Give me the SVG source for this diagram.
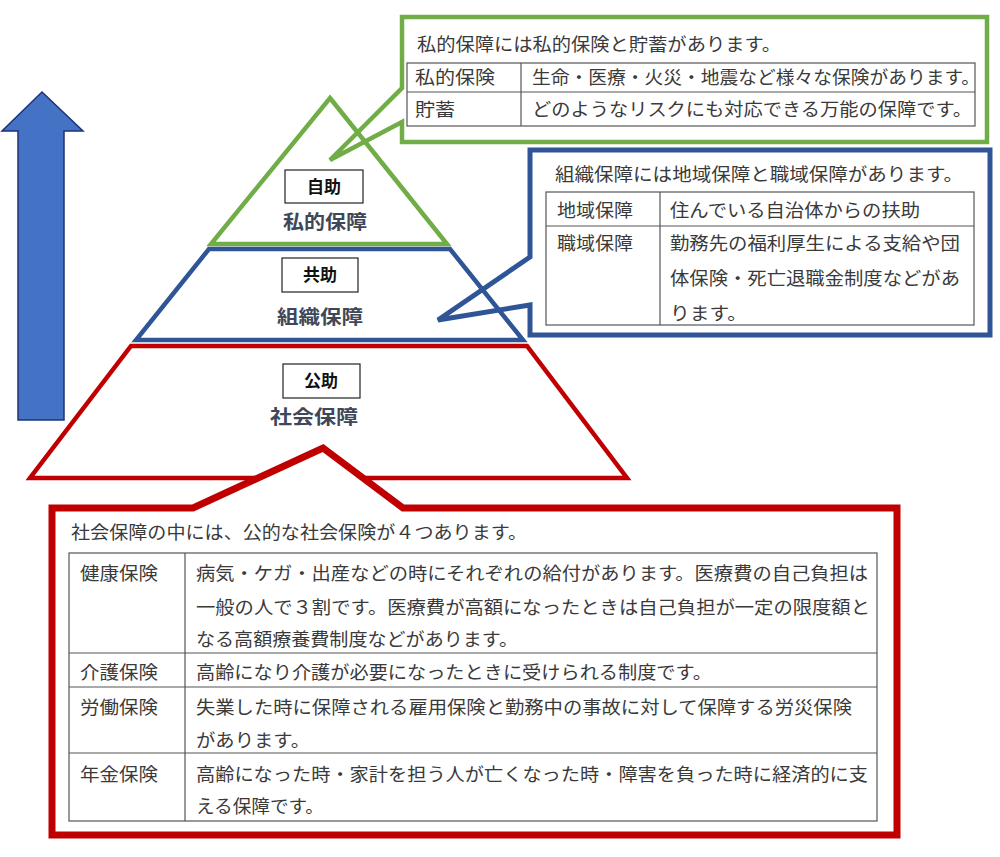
<svg xmlns="http://www.w3.org/2000/svg" width="1000" height="857" viewBox="0 0 1000 857">
<style>
  .t { font-family: "Noto Sans CJK JP", "Liberation Sans", sans-serif; fill: #3a3a3a; font-size: 18px; }
  .grid { fill: none; stroke: #555; stroke-width: 1.2; }
  .lbl { font-family: "Noto Sans CJK JP", "Liberation Sans", sans-serif; fill: #3f4858; font-size: 19px; font-weight: bold; text-anchor: middle; }
  .tag { font-family: "Noto Sans CJK JP", "Liberation Sans", sans-serif; fill: #111; font-size: 17px; font-weight: bold; text-anchor: middle; }
  .tagbox { fill: #fff; stroke: #222; stroke-width: 1.2; }
  .callout { fill: #fff; stroke-linejoin: miter; }
</style>
<rect width="1000" height="857" fill="#fff"/>

<g id="arrow">
  <polygon points="42,92 83,131 64,131 64,420 18,420 18,131 2,131" fill="#4472C4" stroke="#1F3277" stroke-width="1.5"/>
</g>

<g id="callout-private">
  <path class="callout" d="M402,88 L402,17 L987,17 L987,142 L402,142 L402,122 L330,160 Z" stroke="#70AD47" stroke-width="4.5"/>
  <text class="t" x="417" y="51" textLength="364" lengthAdjust="spacingAndGlyphs">私的保障には私的保険と貯蓄があります。</text>
  <rect class="grid" x="407" y="63" width="568" height="63"/>
  <line class="grid" x1="407" y1="92" x2="975" y2="92"/>
  <line class="grid" x1="521" y1="63" x2="521" y2="126"/>
  <text class="t" x="415" y="84" textLength="80" lengthAdjust="spacingAndGlyphs">私的保険</text>
  <text class="t" x="532" y="84" textLength="448" lengthAdjust="spacingAndGlyphs">生命・医療・火災・地震など様々な保険があります。</text>
  <text class="t" x="415" y="116" textLength="40" lengthAdjust="spacingAndGlyphs">貯蓄</text>
  <text class="t" x="532" y="116" textLength="440" lengthAdjust="spacingAndGlyphs">どのようなリスクにも対応できる万能の保障です。</text>
</g>

<g id="callout-org">
  <path class="callout" d="M530,257 L530,150 L990,150 L990,335 L530,335 L530,305 L438,320 Z" stroke="#2F5597" stroke-width="5"/>
  <text class="t" x="555" y="181" textLength="408" lengthAdjust="spacingAndGlyphs">組織保障には地域保障と職域保障があります。</text>
  <rect class="grid" x="546" y="192" width="428" height="133"/>
  <line class="grid" x1="546" y1="226" x2="974" y2="226"/>
  <line class="grid" x1="660" y1="192" x2="660" y2="325"/>
  <text class="t" x="557" y="217" textLength="76" lengthAdjust="spacingAndGlyphs">地域保障</text>
  <text class="t" x="670" y="217" textLength="250" lengthAdjust="spacingAndGlyphs">住んでいる自治体からの扶助</text>
  <text class="t" x="557" y="250" textLength="76" lengthAdjust="spacingAndGlyphs">職域保障</text>
  <text class="t" x="670" y="250" textLength="290" lengthAdjust="spacingAndGlyphs">勤務先の福利厚生による支給や団</text>
  <text class="t" x="670" y="285" textLength="290" lengthAdjust="spacingAndGlyphs">体保険・死亡退職金制度などがあ</text>
  <text class="t" x="670" y="320" textLength="77" lengthAdjust="spacingAndGlyphs">ります。</text>
</g>

<g id="tier-private">
  <path d="M330,98 L447,244 L211,244 Z" fill="none" stroke="#70AD47" stroke-width="4.5" stroke-linejoin="miter"/>
  <rect class="tagbox" x="285" y="170" width="78" height="33"/>
  <text class="tag" x="324" y="193">自助</text>
  <text class="lbl" x="325" y="229" textLength="84" lengthAdjust="spacingAndGlyphs">私的保障</text>
</g>

<g id="tier-org">
  <path d="M209,249 L450,249 L523,340 L136,340 Z" fill="none" stroke="#2F5597" stroke-width="4.5" stroke-linejoin="miter"/>
  <rect class="tagbox" x="282" y="258" width="76" height="34"/>
  <text class="tag" x="320" y="281">共助</text>
  <text class="lbl" x="320" y="324" textLength="86" lengthAdjust="spacingAndGlyphs">組織保障</text>
</g>

<g id="tier-public">
  <path d="M131,346 L527,346 L627,478 L30,478 Z" fill="none" stroke="#C00000" stroke-width="4.5" stroke-linejoin="miter"/>
  <rect class="tagbox" x="283" y="364" width="77" height="34"/>
  <text class="tag" x="321" y="387">公助</text>
  <text class="lbl" x="314" y="424" textLength="88" lengthAdjust="spacingAndGlyphs">社会保障</text>
</g>

<g id="callout-public">
  <path class="callout" d="M52,508 L193,508 L323,448 L403,508 L897,508 L897,835 L52,835 Z" stroke="#C00000" stroke-width="7"/>
  <text class="t" x="71" y="539" textLength="456" lengthAdjust="spacingAndGlyphs">社会保障の中には、公的な社会保険が４つあります。</text>
  <rect class="grid" x="69" y="553" width="808" height="268"/>
  <line class="grid" x1="69" y1="653" x2="877" y2="653"/>
  <line class="grid" x1="69" y1="687" x2="877" y2="687"/>
  <line class="grid" x1="69" y1="753" x2="877" y2="753"/>
  <line class="grid" x1="185" y1="553" x2="185" y2="821"/>
  <text class="t" x="80" y="580" textLength="78" lengthAdjust="spacingAndGlyphs">健康保険</text>
  <text class="t" x="196" y="580" textLength="672" lengthAdjust="spacingAndGlyphs">病気・ケガ・出産などの時にそれぞれの給付があります。医療費の自己負担は</text>
  <text class="t" x="196" y="614" textLength="674" lengthAdjust="spacingAndGlyphs">一般の人で３割です。医療費が高額になったときは自己負担が一定の限度額と</text>
  <text class="t" x="196" y="646" textLength="322" lengthAdjust="spacingAndGlyphs">なる高額療養費制度などがあります。</text>
  <text class="t" x="80" y="679" textLength="78" lengthAdjust="spacingAndGlyphs">介護保険</text>
  <text class="t" x="196" y="679" textLength="516" lengthAdjust="spacingAndGlyphs">高齢になり介護が必要になったときに受けられる制度です。</text>
  <text class="t" x="80" y="714" textLength="78" lengthAdjust="spacingAndGlyphs">労働保険</text>
  <text class="t" x="196" y="714" textLength="656" lengthAdjust="spacingAndGlyphs">失業した時に保障される雇用保険と勤務中の事故に対して保障する労災保険</text>
  <text class="t" x="196" y="747" textLength="114" lengthAdjust="spacingAndGlyphs">があります。</text>
  <text class="t" x="80" y="781" textLength="78" lengthAdjust="spacingAndGlyphs">年金保険</text>
  <text class="t" x="196" y="781" textLength="672" lengthAdjust="spacingAndGlyphs">高齢になった時・家計を担う人が亡くなった時・障害を負った時に経済的に支</text>
  <text class="t" x="196" y="813" textLength="128" lengthAdjust="spacingAndGlyphs">える保障です。</text>
</g>
</svg>
